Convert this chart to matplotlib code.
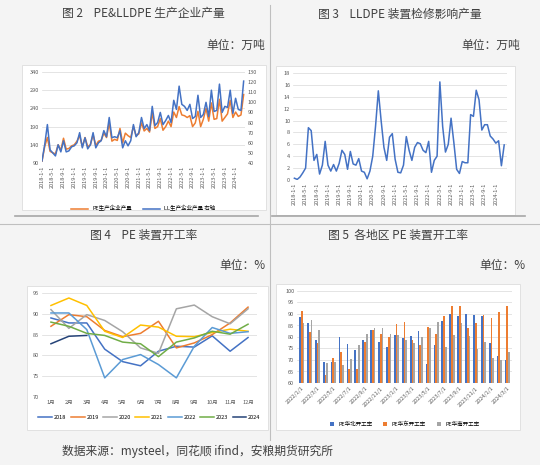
import matplotlib
matplotlib.use("Agg")
import matplotlib.pyplot as plt
from matplotlib.patches import Rectangle
import numpy as np

plt.rcParams['font.family'] = ['Noto Sans CJK SC', 'DejaVu Sans']

# ---- Data ----
months76 = [f"{y}-{m}-1" for y in range(2018, 2025) for m in range(1, 13)][:76]
lldpe_out = [42,58,78,53,50,47,58,51,62,51,52,56,
             57,60,70,55,65,54,58,70,55,60,62,72,
             66,85,65,66,65,72,55,62,57,62,78,66,
             70,85,74,78,72,96,77,80,90,78,82,87,
             80,102,93,116,98,96,92,98,84,86,107,85,
             88,100,86,112,91,92,118,90,96,95,112,89,
             104,93,92,121]
pe_out = [95,135,160,122,118,115,140,125,158,128,130,137,
          140,150,165,135,160,135,140,168,138,150,152,172,
          160,200,150,155,152,185,145,172,165,160,190,165,
          170,200,178,185,175,228,185,190,212,180,190,205,
          190,230,215,245,222,220,215,220,190,200,232,190,
          210,240,205,255,210,212,265,205,215,225,262,215,
          230,218,222,278]
maint = [0.3,0.1,0.5,1.2,2,8.8,8.3,3.3,4.3,1,2.5,6.5,
         2.5,1.5,2.6,1.5,2.8,5,4.3,1.8,4.8,2.7,2.5,3.6,
         1.5,1.3,0.2,1.5,4,9,15,10,5.5,3.3,7.2,7.8,
         3.5,1.3,1.2,2.5,7.3,5,3.3,5.5,6.3,6.1,5,4.6,
         6.5,1.3,3.3,4,16.5,9,4.7,6,10.4,6.3,1.8,1.1,
         3.1,2.9,2.9,11,10.7,15.1,13.5,8.4,9.3,9.3,7.4,6.9,
         6.2,6.6,2.4,5.9]
month_labels = [f"{i}月" for i in range(1, 13)]
years = ["2018","2019","2020","2021","2022","2023","2024"]
rates = [
 [89,87.8,87.8,81.5,78.5,77.5,81,82.2,82,84.7,81,84.3],
 [87,89.8,89.3,86,84.5,85.3,88.2,81.8,83,85,87.8,91.6],
 [91,86.5,89.8,88.4,85.7,81.8,80.5,91.2,92.1,89.3,87.6,91.2],
 [92,93.8,92,85.8,84.3,87.3,86.8,84.6,84.5,85.5,86.3,85.8],
 [90.2,90.2,86.2,74.6,79,80.2,77.8,74.6,82.2,86.7,85.3,85.7],
 [88,87,85.3,84.8,83.2,82.8,79.7,83.2,84.2,85.8,85.1,87.5],
 [82.8,84.6,84.8],
]
year_colors = ["#4472C4","#ED7D31","#A5A5A5","#FFC000","#5B9BD5","#70AD47","#264478"]
bar_months = [f"{y}/{m}/1" for y in (2022, 2023, 2024) for m in range(1, 13)][:27]
north = [88.5,86.2,78.7,69,69,80,76.8,74.5,78.8,83.2,78,75.7,81,79.5,80.4,82.5,68.3,76.6,87,90,89.2,90,89.5,89,77.5,71.7,70]
east = [91.5,82.3,77.3,63.5,70.8,73.3,66.3,66.3,77.7,83.2,81.5,79.8,85.7,86.5,78.7,76.6,84.3,81.4,89.2,93.5,93.6,83.7,86.3,89.4,88.3,91,93.3]
south = [86.2,87.2,83,68.5,69.3,68,70.3,76.5,81.5,84,84,81.4,81,78.5,77.2,80.2,83.8,86.5,75.5,80.8,86.2,80.6,74.8,77.8,71,70,73.5]

W, H = 540, 465
fig = plt.figure(figsize=(5.4, 4.65), dpi=100)
fig.patch.set_facecolor("#f4f4f4")

def rect(x0, y0, x1, y1):
    return [x0/W, 1-y1/H, (x1-x0)/W, (y1-y0)/H]

def box(x0, y0, x1, y1):
    fig.patches.append(Rectangle((x0/W, 1-y1/H), (x1-x0)/W, (y1-y0)/H, transform=fig.transFigure,
                                 facecolor="white", edgecolor="#dddddd", lw=0.6, zorder=-5))

def style(ax):
    ax.set_facecolor("none")
    for s in ax.spines.values():
        s.set_visible(False)
    ax.tick_params(length=0, labelsize=4, colors="#595959", pad=2)
    ax.grid(axis='y', color="#d9d9d9", lw=0.5)
    ax.set_axisbelow(True)

# dividers
fig.add_artist(plt.Line2D([270/W, 270/W], [1-5/H, 1-440/H], color="#bfbfbf", lw=0.8, transform=fig.transFigure))
fig.add_artist(plt.Line2D([0, 1], [1-224/H, 1-224/H], color="#bfbfbf", lw=0.8, transform=fig.transFigure))
fig.add_artist(plt.Line2D([15/W, 258/W], [1-216/H, 1-216/H], color="#a6a6a6", lw=1.2, transform=fig.transFigure))
fig.add_artist(plt.Line2D([272/W, 525/W], [1-216/H, 1-216/H], color="#a6a6a6", lw=1.2, transform=fig.transFigure))

fs = 8.5
fig.text(62/W, 1-14/H, "图 2    PE&LLDPE 生产企业产量", fontsize=fs, va='center', color="#404040")
fig.text(318/W, 1-14/H, "图 3    LLDPE 装置检修影响产量", fontsize=fs, va='center', color="#404040")
fig.text(265/W, 1-45/H, "单位：万吨", fontsize=fs, va='center', ha='right', color="#404040")
fig.text(520/W, 1-45/H, "单位：万吨", fontsize=fs, va='center', ha='right', color="#404040")
fig.text(90/W, 1-235/H, "图 4    PE 装置开工率", fontsize=fs, va='center', color="#404040")
fig.text(328/W, 1-235/H, "图 5  各地区 PE 装置开工率", fontsize=fs, va='center', color="#404040")
fig.text(265/W, 1-265/H, "单位：%", fontsize=fs, va='center', ha='right', color="#404040")
fig.text(525/W, 1-265/H, "单位：%", fontsize=fs, va='center', ha='right', color="#404040")
fig.text(62/W, 1-451/H, "数据来源：mysteel，同花顺 ifind，安粮期货研究所", fontsize=fs, va='center', color="#404040")

x = np.arange(76)
tick_idx = list(range(0, 76, 4))

# Panel 1
box(22, 65, 266, 210)
ax1 = fig.add_axes(rect(42, 72, 245, 163))
style(ax1)
ax1.plot(x, pe_out, color="#ED7D31", lw=1.1, label="PE生产企业产量")
ax1.set_ylim(90, 340); ax1.set_yticks(range(90, 341, 50)); ax1.set_xlim(0, 75.5)
ax1.set_xticks(tick_idx); ax1.set_xticklabels([months76[i] for i in tick_idx], rotation=90)
ax1b = ax1.twinx()
ax1b.set_facecolor("none")
for s in ax1b.spines.values(): s.set_visible(False)
ax1b.tick_params(length=0, labelsize=4, colors="#595959", pad=2)
ax1b.plot(x, lldpe_out, color="#4472C4", lw=1.1, label="LL生产企业产量 右轴")
ax1b.set_ylim(40, 130); ax1b.set_yticks(range(40, 131, 10))
h1, l1 = ax1.get_legend_handles_labels(); h2, l2 = ax1b.get_legend_handles_labels()
ax1.legend(h1+h2, l1+l2, loc='center', bbox_to_anchor=(0.5, -0.5), ncol=2, frameon=False, fontsize=4,
           handlelength=3, prop={'size': 4})

# Panel 2
box(276, 66, 515, 215)
ax2 = fig.add_axes(rect(293, 73, 507, 180))
style(ax2)
ax2.plot(x, maint, color="#4472C4", lw=1.1)
ax2.set_ylim(0, 18); ax2.set_yticks(range(0, 19, 2)); ax2.set_xlim(-0.5, 76)
ax2.set_xticks(tick_idx); ax2.set_xticklabels([months76[i] for i in tick_idx], rotation=90)

# Panel 3
box(27, 286, 268, 430)
ax3 = fig.add_axes(rect(42, 293, 257, 397))
style(ax3)
for yr, vals, c in zip(years, rates, year_colors):
    ax3.plot(range(len(vals)), vals, color=c, lw=1.1, label=yr)
ax3.set_ylim(70, 95); ax3.set_yticks(range(70, 96, 5)); ax3.set_xlim(-0.5, 11.5)
ax3.set_xticks(range(12)); ax3.set_xticklabels(month_labels)
ax3.legend(loc='center', bbox_to_anchor=(0.5, -0.2), ncol=7, frameon=False, fontsize=4,
           handlelength=2.5, columnspacing=0.8, handletextpad=0.3)

# Panel 4
box(276, 284, 520, 430)
ax4 = fig.add_axes(rect(297, 291, 512, 383))
style(ax4)
bx = np.arange(27); bw = 0.22
ax4.bar(bx - bw, north, bw, color="#4472C4", label="PE华北开工率")
ax4.bar(bx, east, bw, color="#ED7D31", label="PE华东开工率")
ax4.bar(bx + bw, south, bw, color="#A5A5A5", label="PE华南开工率")
ax4.set_ylim(60, 100); ax4.set_yticks(range(60, 101, 5)); ax4.set_xlim(-0.6, 26.6)
ax4.set_xticks(range(0, 27, 2)); ax4.set_xticklabels([bar_months[i] for i in range(0, 27, 2)], rotation=45, ha='right', rotation_mode='anchor')
ax4.legend(loc='center', bbox_to_anchor=(0.5, -0.45), ncol=3, frameon=False, fontsize=4, handlelength=0.7)

fig.savefig("out.png", dpi=100, facecolor=fig.get_facecolor())
